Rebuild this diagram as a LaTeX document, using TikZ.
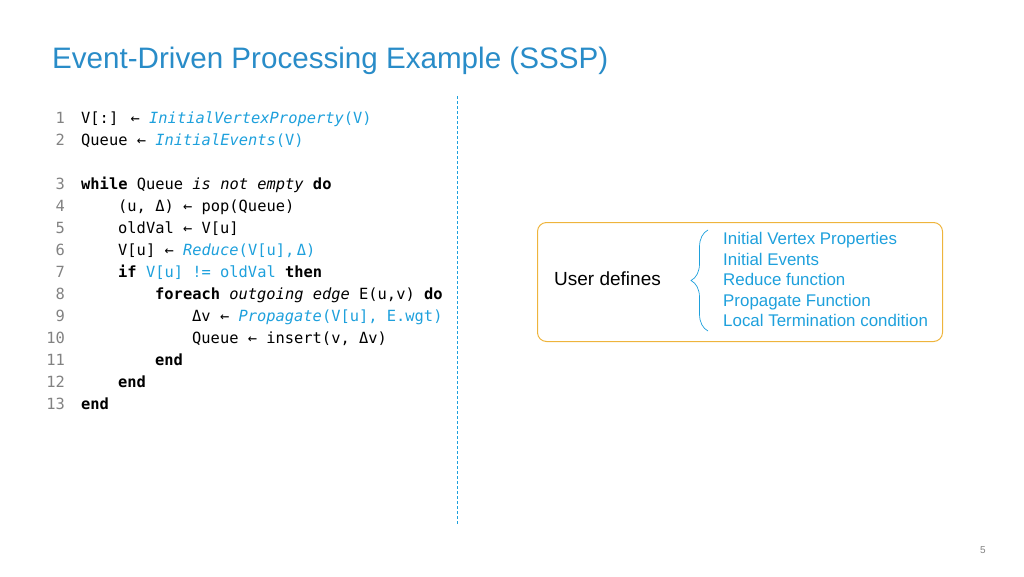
\documentclass[tikz,border=0pt]{standalone}
\usepackage{fontspec}
\setmainfont{Liberation Sans}
\newfontfamily\codefont{DejaVu Sans Mono}
\usetikzlibrary{decorations.pathreplacing}
\definecolor{titleblue}{RGB}{41,140,200}
\definecolor{fnblue}{RGB}{30,160,220}
\definecolor{boxorange}{RGB}{238,180,60}
\definecolor{numgray}{RGB}{130,130,130}
\newcommand{\kw}[1]{\textbf{#1}}
\newcommand{\fn}[1]{\textcolor{fnblue}{#1}}
\tikzset{
  codeline/.style={anchor=base west,inner sep=0pt,font=\codefont\fontsize{15.4}{18}\selectfont},
  lnum/.style={anchor=base east,inner sep=0pt,text=numgray,font=\codefont\fontsize{15.4}{18}\selectfont},
  item/.style={anchor=base west,inner sep=0pt,text=fnblue,font=\fontsize{16.9}{19}\selectfont},
}
\begin{document}
\begin{tikzpicture}[x=1pt,y=-1pt]
\useasboundingbox (0,0) rectangle (1024,576);
\node[anchor=base west,inner sep=0pt,text=titleblue,font=\fontsize{29.6}{34}\selectfont] (title) at (52,68) {Event-Driven Processing Example (SSSP)};
\foreach \n/\y in {1/123,2/145,3/189,4/211,5/233,6/255,7/277,8/299,9/321,10/343,11/365,12/387,13/409}{
  \node[lnum] (n\n) at (65,\y) {\n};
}
\node[codeline] (c1) at (81,123) {V[:] ← \fn{\textit{InitialVertexProperty}(V)}};
\node[codeline] (c2) at (81,145) {Queue ← \fn{\textit{InitialEvents}(V)}};
\node[codeline] (c3) at (81,189) {\kw{while} Queue \textit{is not empty} \kw{do}};
\node[codeline] (c4) at (118,211) {(u, Δ) ← pop(Queue)};
\node[codeline] (c5) at (118,233) {oldVal ← V[u]};
\node[codeline] (c6) at (118,255) {V[u] ← \fn{\textit{Reduce}(V[u],\,Δ)}};
\node[codeline] (c7) at (118,277) {\kw{if} \fn{V[u] != oldVal} \kw{then}};
\node[codeline] (c8) at (155,299) {\kw{foreach} \textit{outgoing edge} E(u,v) \kw{do}};
\node[codeline] (c9) at (192,321) {Δv ← \fn{\textit{Propagate}(V[u], E.wgt)}};
\node[codeline] (c10) at (192,343) {Queue ← insert(v, Δv)};
\node[codeline] (c11) at (155,365) {\kw{end}};
\node[codeline] (c12) at (118,387) {\kw{end}};
\node[codeline] (c13) at (81,409) {\kw{end}};
\coordinate (dtop) at (457,96);
\coordinate (dbot) at (457,525);
\draw[fnblue,dashed,dash pattern=on 3pt off 2pt,line width=0.9pt] (dtop) -- (dbot);
\node[draw=boxorange,line width=1pt,rounded corners=9pt,minimum width=405pt,minimum height=119pt,anchor=north west] (box) at (537,222) {};
\node[anchor=base west,inner sep=0pt,font=\fontsize{19}{22}\selectfont] (ud) at (554,285) {User defines};
\node[item] (i1) at (723,244) {Initial Vertex Properties};
\node[item] (i2) at (723,265) {Initial Events};
\node[item] (i3) at (723,285) {Reduce function};
\node[item] (i4) at (723,306) {Propagate Function};
\node[item] (i5) at (723,326) {Local Termination condition};
\coordinate (bt) at (708,230);
\coordinate (bb) at (708,331);
\draw[fnblue,line width=0.7pt,decorate,decoration={brace,amplitude=17pt,mirror,aspect=0.5}] (bt) -- (bb);
\node[text=numgray,font=\fontsize{10}{12}\selectfont,inner sep=0pt] (pg) at (983,550) {5};
\end{tikzpicture}
\end{document}
